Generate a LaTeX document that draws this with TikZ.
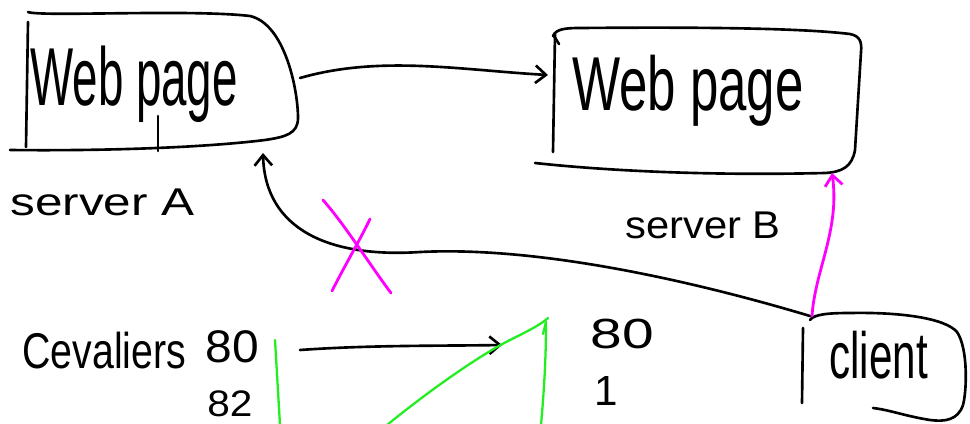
\documentclass[tikz,border=0pt]{standalone}
\usepackage{fontspec}
\setmainfont{Liberation Sans}
\usetikzlibrary{arrows.meta}
\definecolor{hgreen}{HTML}{22EE22}
\definecolor{hmag}{HTML}{FF00FF}
\tikzset{
  ink/.style={line width=1.5pt, line cap=round, line join=round, draw=black},
  gink/.style={ink, draw=hgreen, line width=1.3pt},
  mink/.style={ink, draw=hmag, line width=1.6pt},
  tip/.style={-{Straight Barb[length=6pt,width=10pt]}},
  lbl/.style={inner sep=0pt, anchor=base west},
}
\newcommand{\hw}[4]{\fontsize{#1}{#1}\selectfont\scalebox{#2}[#3]{#4}}
\begin{document}
\begin{tikzpicture}[x=0.02cm,y=-0.02cm]
\useasboundingbox (0,0) rectangle (970,423);
\clip (0,0) rectangle (970,423);

% ---------- server A box ----------
\draw[ink] (28,12) .. controls (40,17) and (190,9) .. (250,16)
  .. controls (285,24) and (298,90) .. (298,118)
  .. controls (298,134) and (285,137) .. (265,140)
  .. controls (200,148) and (100,151) .. (10,150);
\draw[ink] (28,22) -- (26,147);
\draw[ink] (158,116) -- (158,151);
\node[lbl] (webA) at (30,105) {\hw{26}{1}{1.8}{Web page}};
\node[lbl] (srvA) at (10,215) {\hw{22}{1.28}{1}{server A}};

% ---------- server B box ----------
\draw[ink] (553,36) .. controls (556,29) and (565,28) .. (580,28)
  .. controls (700,27) and (800,28) .. (850,34)
  .. controls (860,36) and (862,42) .. (861,52)
  -- (855,150) .. controls (852,167) and (842,172) .. (825,173)
  .. controls (700,176) and (600,170) .. (535,163);
\draw[ink] (555,34) -- (553,152);
\draw[ink] (554,36) -- (559,44);
\node[lbl] (webB) at (572,110) {\hw{29}{1}{1.5}{Web page}};
\node[lbl] (srvB) at (625,238) {\hw{22}{1.08}{1}{server B}};

% ---------- client box ----------
\draw[ink] (810,320) .. controls (814,314) and (830,313) .. (850,313)
  .. controls (900,312) and (945,318) .. (957,332)
  .. controls (968,348) and (967,390) .. (963,405)
  .. controls (958,420) and (945,422) .. (930,420)
  .. controls (905,416) and (890,410) .. (873,408);
\draw[ink] (803,328) -- (802,403);
\node[lbl] (client) at (829,378) {\hw{24}{1}{1.55}{client}};

% ---------- connectors ----------
\coordinate (aR) at (300,78);
\coordinate (bL) at (548,75);
\draw[ink,tip] (aR) .. controls (380,55) and (460,70) .. (bL);

\coordinate (clTL) at (810,316);
\coordinate (mid) at (420,252);
\coordinate (aBot) at (263,153);
\draw[ink,tip] (clTL) .. controls (740,295) and (560,245) .. (mid)
  .. controls (330,258) and (265,230) .. (aBot);

\coordinate (clTop) at (812,316);
\coordinate (bBot) at (832,173);
\draw[mink,tip] (clTop) .. controls (815,270) and (840,230) .. (bBot);

% magenta cross
\coordinate (x1) at (323,200);
\coordinate (x2) at (391,293);
\coordinate (x3) at (370,219);
\coordinate (x4) at (332,291);
\draw[mink] (x1) .. controls (345,225) and (370,265) .. (x2);
\draw[mink] (x3) .. controls (360,240) and (345,265) .. (x4);

% ---------- lower part ----------
\node[lbl] (cav) at (22,368) {\hw{26}{0.86}{1.1}{Cevaliers}};
\node[lbl] (n80a) at (205,362) {\hw{26}{1.05}{1}{80}};
\node[lbl] (n82) at (207,416) {\hw{21}{1.1}{1}{82}};
\node[lbl] (n80) at (590,348) {\hw{24}{1.35}{1}{80}};
\node[lbl] (n1) at (594,405) {\hw{24}{1}{1}{1}};

\coordinate (p1) at (300,350);
\coordinate (p2) at (502,345);
\draw[ink,tip] (p1) .. controls (370,345) and (440,346) .. (p2);

\coordinate (g1t) at (275,340);
\coordinate (g1b) at (280,425);
\draw[gink] (g1t) -- (g1b);
\coordinate (g2b) at (387,425);
\coordinate (g2t) at (548,318);
\draw[gink] (g2b) .. controls (430,390) and (480,355) .. (510,340) .. controls (530,330) and (540,325) .. (g2t);
\coordinate (g3b) at (541,425);
\coordinate (g3t) at (546,322);
\draw[gink] (g3b) .. controls (545,380) and (546,350) .. (g3t);
\draw[gink] (546,322) -- (543,334);
\end{tikzpicture}
\end{document}
